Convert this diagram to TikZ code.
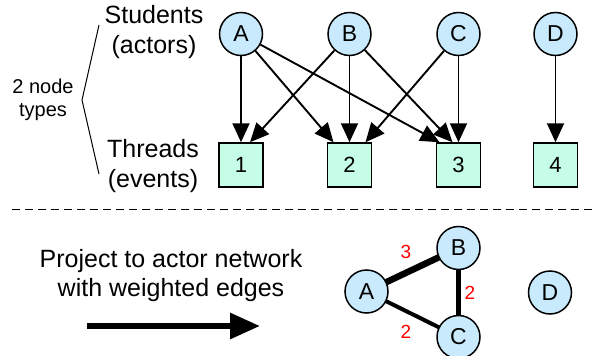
\documentclass[tikz,border=0pt]{standalone}
\usepackage{fontspec}
\setmainfont{Liberation Sans}
\usetikzlibrary{arrows.meta,calc,backgrounds}
\definecolor{circfill}{RGB}{200,234,252}
\definecolor{sqfill}{RGB}{198,253,230}
\begin{document}
\begin{tikzpicture}[x=1pt,y=-1pt,
  circ/.style={circle,draw,line width=1.5pt,fill=circfill,minimum size=43pt,inner sep=0pt,font=\fontsize{23}{23}\selectfont},
  sqbox/.style={rectangle,draw,line width=1.5pt,fill=sqfill,minimum size=44pt,inner sep=0pt,font=\fontsize{22}{22}\selectfont},
  edge/.style={line width=1.9pt,-{Triangle[length=19pt,width=17pt]}},
  lbl/.style={align=center,inner sep=0pt},
  wlbl/.style={text=red,font=\fontsize{19}{19}\selectfont,inner sep=0pt}]
\useasboundingbox (0,0) rectangle (592,356);
% labels
\node[lbl,font=\fontsize{25}{30}\selectfont] (stud) at (154,32) {Students\\(actors)};
\node[lbl,font=\fontsize{25}{30}\selectfont] (thr) at (153,166) {Threads\\(events)};
\node[lbl,font=\fontsize{20}{23}\selectfont] (types) at (43,100) {2 node\\types};
\draw[line width=1pt] (99,25) -- (82,100) -- (99,174);
% top nodes
\node[circ] (A) at (241,34) {A};
\node[circ] (B) at (349.5,34) {B};
\node[circ] (C) at (458.5,34) {C};
\node[circ] (D) at (555.5,34) {D};
\node[sqbox] (s1) at (241,165) {1};
\node[sqbox] (s2) at (349.5,165) {2};
\node[sqbox] (s3) at (458.5,165) {3};
\node[sqbox] (s4) at (555.5,165) {4};
% edges
\draw[edge] (A) -- (s1.north);
\draw[edge] (A) -- ([xshift=-16pt]s2.north);
\draw[edge] (A) -- ([xshift=-19pt]s3.north);
\draw[edge] (B) -- ([xshift=9pt]s1.north);
\draw[edge] (B) -- (s2.north);
\draw[edge] (B) -- ([xshift=-6pt]s3.north);
\draw[edge] (C) -- ([xshift=16pt]s2.north);
\draw[edge] (C) -- (s3.north);
\draw[edge] (D) -- (s4.north);
% divider
\coordinate (dl) at (12,209);
\coordinate (dr) at (592,209);
\draw[line width=0.8pt,dash pattern=on 8pt off 5pt] (dl) -- (dr);
% bottom
\node[lbl,font=\fontsize{25}{29}\selectfont] (proj) at (171,276) {Project to actor network\\with weighted edges};
\coordinate (p1) at (87,326);
\coordinate (p2) at (260,326);
\draw[line width=6pt,-{Triangle[length=30pt,width=25pt]}] (p1) -- (p2);
\node[circ] (bA) at (366.5,291.5) {A};
\node[circ] (bB) at (458.5,248) {B};
\node[circ] (bC) at (458.5,337) {C};
\node[circ] (bD) at (550,292.5) {D};
\begin{scope}[on background layer]
\draw[line width=6.5pt] (bA.center) -- (bB.center);
\draw[line width=5pt] (bB.center) -- (bC.center);
\draw[line width=4pt] (bA.center) -- (bC.center);
\end{scope}
\node[wlbl] (w1) at (406,252) {3};
\node[wlbl] (w2) at (470,293) {2};
\node[wlbl] (w3) at (406,332) {2};
\end{tikzpicture}
\end{document}
